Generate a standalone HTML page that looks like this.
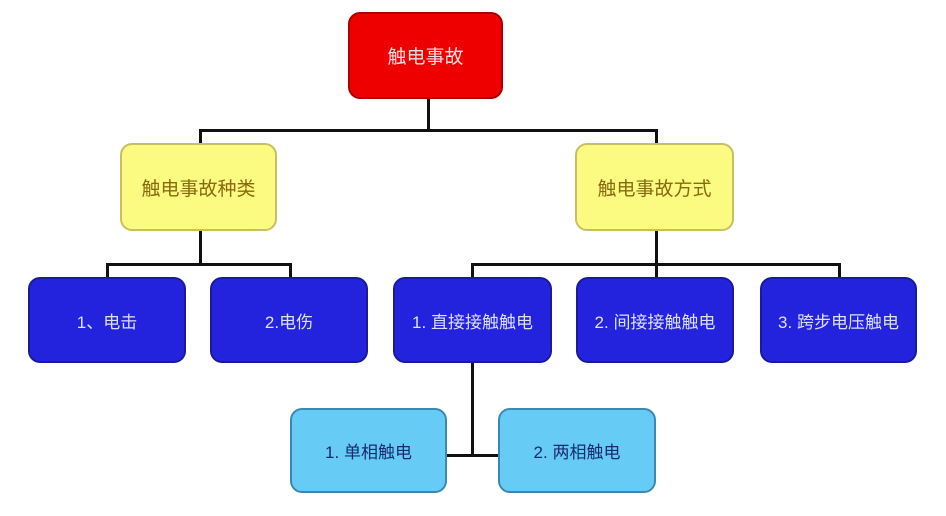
<!DOCTYPE html>
<html><head><meta charset="utf-8"><style>
body{margin:0;width:946px;height:516px;background:#fff;position:relative;overflow:hidden;font-family:"Liberation Sans","Noto Sans CJK SC",sans-serif}
.b{position:absolute;box-sizing:border-box;border-radius:12px;display:flex;align-items:center;justify-content:center;font-size:19px}
.r{background:#ee0000;border:2px solid #a00;color:#f4dede}
.y{background:#fbfb82;border:2px solid #c8c060;color:#8a6a10}
.d{background:#2323dd;border:2px solid #1a1a9a;color:#dde0ff}
.l{background:#66ccf5;border:2px solid #3a8ab0;color:#1a2a70}
.h,.v{position:absolute;background:#111}
.h{height:3px}.v{width:3px}
</style></head><body>
<div class="v" style="left:427px;top:98px;height:34px"></div>
<div class="h" style="left:199px;top:129px;width:459px"></div>
<div class="v" style="left:199px;top:129px;height:15px"></div>
<div class="v" style="left:655px;top:129px;height:15px"></div>
<div class="v" style="left:199px;top:229px;height:37px"></div>
<div class="h" style="left:106px;top:263px;width:186px"></div>
<div class="v" style="left:106px;top:263px;height:15px"></div>
<div class="v" style="left:289px;top:263px;height:15px"></div>
<div class="v" style="left:655px;top:229px;height:49px"></div>
<div class="h" style="left:471px;top:263px;width:370px"></div>
<div class="v" style="left:471px;top:263px;height:15px"></div>
<div class="v" style="left:838px;top:263px;height:15px"></div>
<div class="v" style="left:471px;top:361px;height:96px"></div>
<div class="h" style="left:446px;top:454px;width:54px"></div>

<div class="b r" style="left:348px;top:12px;width:155px;height:87px">触电事故</div>
<div class="b y" style="left:120px;top:143px;width:157px;height:88px">触电事故种类</div>
<div class="b y" style="left:575px;top:143px;width:159px;height:88px">触电事故方式</div>
<div class="b d" style="left:28px;top:277px;width:158px;height:86px;font-size:17px">1、电击</div>
<div class="b d" style="left:210px;top:277px;width:158px;height:86px;font-size:17px">2.电伤</div>
<div class="b d" style="left:393px;top:277px;width:159px;height:86px;font-size:17px">1. 直接接触触电</div>
<div class="b d" style="left:576px;top:277px;width:158px;height:86px;font-size:17px">2. 间接接触触电</div>
<div class="b d" style="left:760px;top:277px;width:157px;height:86px;font-size:17px">3. 跨步电压触电</div>
<div class="b l" style="left:290px;top:408px;width:157px;height:85px;font-size:17px">1. 单相触电</div>
<div class="b l" style="left:498px;top:408px;width:158px;height:85px;font-size:17px">2. 两相触电</div>
</body></html>
